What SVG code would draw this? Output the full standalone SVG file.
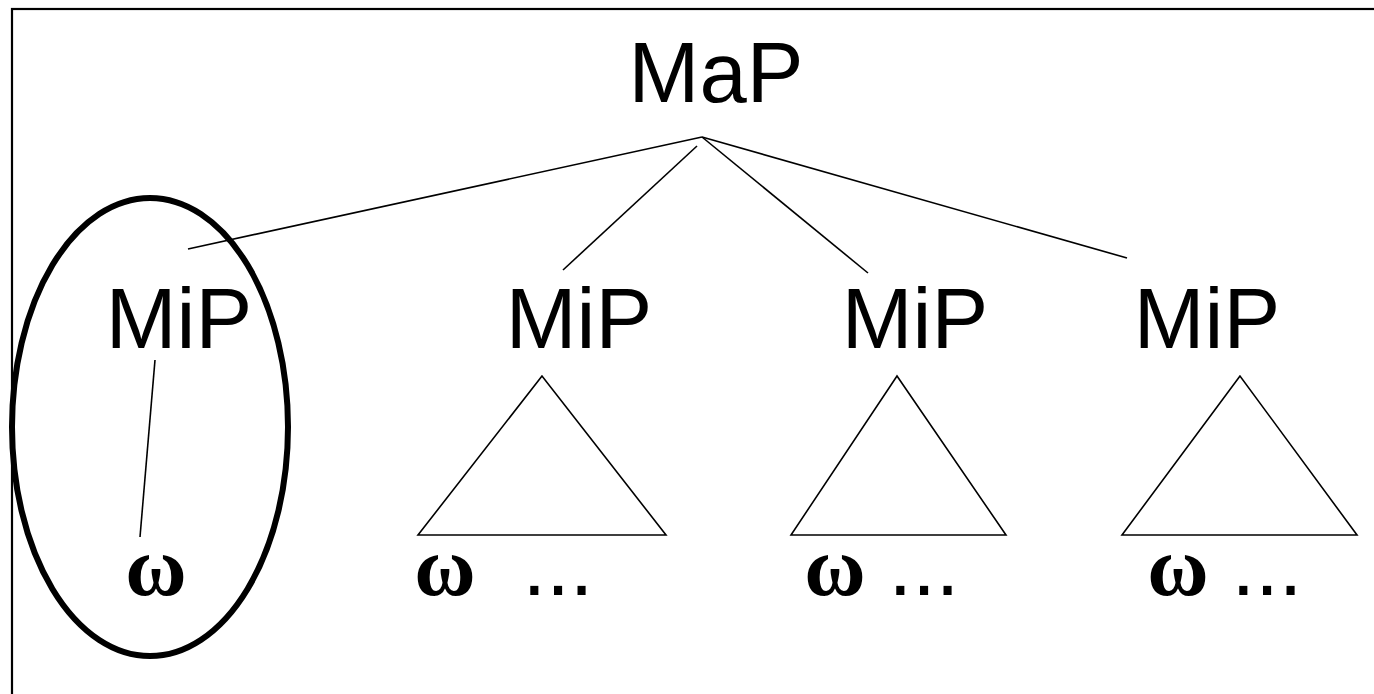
<svg xmlns="http://www.w3.org/2000/svg" width="1374" height="694" viewBox="0 0 1374 694">
<style>
.lab{font-family:"Liberation Sans",Arial,sans-serif;font-size:85px;fill:#000;text-anchor:middle}
.om{font-family:"Liberation Serif","Times New Roman",serif;font-size:84px;font-weight:bold;fill:#000;text-anchor:middle}
.ln{stroke:#000;stroke-width:1.6;fill:none}
.tri{stroke:#000;stroke-width:1.6;fill:none}
</style>
<rect width="1374" height="694" fill="#fff"/>
<rect x="12" y="9" width="1400" height="720" fill="none" stroke="#000" stroke-width="2.2"/>
<g id="connectors">
<line class="ln" x1="702" y1="137" x2="188" y2="249"/>
<line class="ln" x1="697" y1="146" x2="563" y2="270"/>
<line class="ln" x1="702" y1="137" x2="868" y2="273"/>
<line class="ln" x1="702" y1="137" x2="1127" y2="258"/>
<line class="ln" x1="155" y1="360" x2="140" y2="537"/>
</g>
<g id="map"><text class="lab" x="716" y="102">MaP</text></g>
<g id="mip1"><text class="lab" x="179" y="348">MiP</text></g>
<g id="mip2"><text class="lab" x="579" y="348">MiP</text></g>
<g id="mip3"><text class="lab" x="915" y="348">MiP</text></g>
<g id="mip4"><text class="lab" x="1207" y="348">MiP</text></g>
<g id="tri2"><polygon class="tri" points="542,376 418,535 666,535"/></g>
<g id="tri3"><polygon class="tri" points="897,376 791,535 1006,535"/></g>
<g id="tri4"><polygon class="tri" points="1240,376 1122,535 1357,535"/></g>
<g id="w1"><text class="om" x="156" y="595">ω</text></g>
<g id="w2"><text class="om" x="445" y="595">ω</text><text class="lab" x="558" y="595">...</text></g>
<g id="w3"><text class="om" x="835" y="595">ω</text><text class="lab" x="924" y="595">...</text></g>
<g id="w4"><text class="om" x="1178" y="595">ω</text><text class="lab" x="1267" y="595">...</text></g>
<g id="circle"><ellipse cx="150" cy="427" rx="138" ry="229" fill="none" stroke="#000" stroke-width="6"/></g>
</svg>
